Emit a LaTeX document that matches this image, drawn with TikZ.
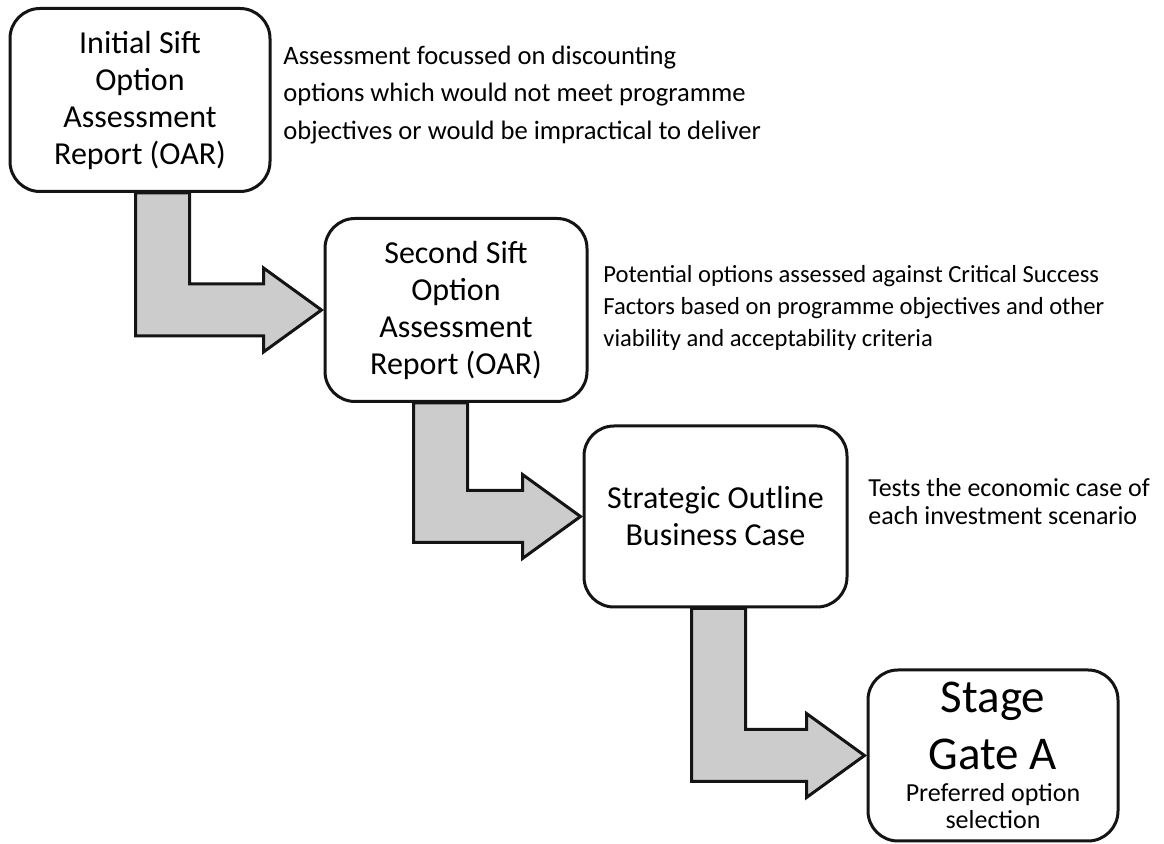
\documentclass[tikz,border=0pt]{standalone}
\usepackage{fontspec}
\setmainfont{Carlito}
\usetikzlibrary{calc}
\definecolor{arrow_gray}{RGB}{204,204,204}
\definecolor{edge_black}{RGB}{20,20,20}

% L-shaped block arrow: from the bottom of box #1 to the left side of box #2,
% stem starting #3 units right of the source's south west corner
\newcommand{\elbow}[3]{%
  \draw[blockarrow] let \p1=($(#1.south west)+(#3,0)$), \p2=(#2.west) in
    (\x1,\y1) -- (\x1+27pt,\y1) -- (\x1+27pt,\y2+13pt) -- (\x2-30pt,\y2+13pt)
    -- (\x2-30pt,\y2+21pt) -- (\x2-1pt,\y2) -- (\x2-30pt,\y2-21pt)
    -- (\x2-30pt,\y2-13pt) -- (\x1,\y2-13pt) -- cycle;}

\begin{document}
\begin{tikzpicture}[x=0.5pt,y=-0.5pt]
    \tikzstyle{stage}=[draw=edge_black, line width=1.5pt, rounded corners=15pt, fill=white, align=center, inner sep=0pt, font=\fontsize{16}{18.5}\selectfont]
    \tikzstyle{note}=[anchor=west, align=left, inner sep=0pt, text=black]
    \tikzstyle{blockarrow}=[draw=edge_black, line width=1.5pt, fill=arrow_gray, line join=miter]

    \useasboundingbox (0,0) rectangle (1164,844);

    \node[stage, minimum width=130pt, minimum height=91.5pt] (sift1) at (140,100)
        {Initial Sift\\Option\\Assessment\\Report (OAR)};
    \node[stage, minimum width=131pt, minimum height=91.5pt] (sift2) at (456,310)
        {Second Sift\\Option\\Assessment\\Report (OAR)};
    \node[stage, minimum width=131.5pt, minimum height=90.5pt] (sobc) at (715.5,516.5)
        {Strategic Outline\\Business Case};
    \node[stage, minimum width=125pt, minimum height=85.5pt, font=\fontsize{23.5}{28.5}\selectfont] (gateA) at (993,755.5)
        {Stage\\Gate A\\[-12.5pt]
         \fontsize{13}{13.5}\selectfont Preferred option\\[-15pt]\fontsize{13}{13.5}\selectfont selection};

    \node[note, font=\fontsize{13.3}{18.75}\selectfont] (note1) at (283,95)
        {Assessment focussed on discounting\\options which would not meet programme\\objectives or would be impractical to deliver};
    \node[note, font=\fontsize{12.3}{16}\selectfont] (note2) at (603,308)
        {Potential options assessed against Critical Success\\Factors based on programme objectives and other\\viability and acceptability criteria};
    \node[note, font=\fontsize{13}{14}\selectfont] (note3) at (868,502)
        {Tests the economic case of\\each investment scenario};

    \elbow{sift1}{sift2}{127}
    \elbow{sift2}{sobc}{90}
    \elbow{sobc}{gateA}{109}
\end{tikzpicture}
\end{document}
